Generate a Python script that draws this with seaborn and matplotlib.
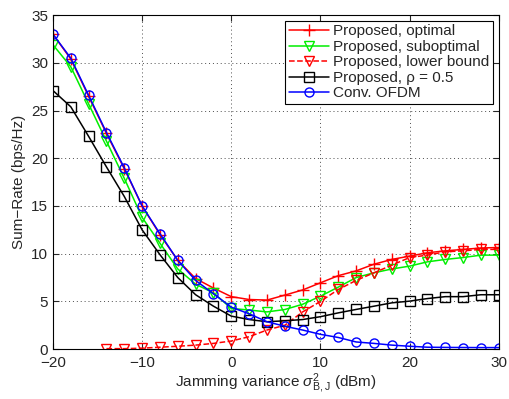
import numpy as np
import pandas as pd
import matplotlib
matplotlib.use('Agg')
import matplotlib.pyplot as plt
import seaborn as sns

# dados (passo de 2 dBm)
jam = list(range(-20, 31, 2))
jam_lb = list(range(-14, 31, 2))

otimo = [33.0, 30.4, 26.5, 22.6, 18.9, 15.0, 12.0, 9.3, 7.4, 6.4, 5.5, 5.2, 5.14,
         5.66, 6.2, 6.95, 7.7, 8.2, 8.9, 9.4, 9.75, 10.1, 10.3, 10.45, 10.6, 10.65]
subotimo = [31.9, 29.6, 25.7, 21.8, 17.9, 13.8, 11.1, 8.4, 6.8, 5.9, 4.26, 4.1, 3.9,
            4.15, 4.7, 5.55, 6.5, 7.5, 8.0, 8.4, 8.7, 9.15, 9.4, 9.6, 9.85, 9.85]
limite_inf = [0.05, 0.05, 0.1, 0.2, 0.3, 0.42, 0.6, 0.85, 1.3, 2.0, 2.5, 3.9, 5.0,
              6.25, 7.2, 8.0, 8.8, 9.6, 9.85, 10.2, 10.3, 10.45, 10.45]
rho05 = [27.1, 25.4, 22.3, 19.1, 16.0, 12.5, 9.9, 7.5, 5.7, 4.5, 3.46, 3.1, 2.87,
         2.97, 3.1, 3.4, 3.8, 4.16, 4.5, 4.85, 5.03, 5.3, 5.5, 5.5, 5.7, 5.7]
ofdm = [33.0, 30.5, 26.6, 22.7, 19.0, 15.0, 12.1, 9.3, 7.2, 5.8, 4.4, 3.7, 2.87,
        2.4, 2.0, 1.55, 1.22, 0.75, 0.6, 0.42, 0.3, 0.2, 0.18, 0.17, 0.16, 0.16]

sns.set_style('ticks')
plt.rcParams['font.family'] = ['Liberation Sans', 'DejaVu Sans']
plt.rcParams['mathtext.fontset'] = 'custom'
plt.rcParams['mathtext.rm'] = 'Liberation Sans'
plt.rcParams['mathtext.it'] = 'Liberation Sans:italic'

fig = plt.figure(figsize=(5.09, 3.99), dpi=100)
ax = fig.add_axes([0.104, 0.125, 0.876, 0.837])

series = [
    ('Proposed, optimal', jam, otimo, 'red', '+', '-'),
    ('Proposed, suboptimal', jam, subotimo, '#00ee00', 'v', '-'),
    ('Proposed, lower bound', jam_lb, limite_inf, 'red', 'v', '--'),
    ('Proposed, \u03c1 = 0.5', jam, rho05, 'black', 's', '-'),
    ('Conv. OFDM', jam, ofdm, 'blue', 'o', '-'),
]

for nome, xs, ys, cor, mk, ls in series:
    df = pd.DataFrame({'x': xs, 'y': ys})
    sns.lineplot(data=df, x='x', y='y', ax=ax, color=cor, marker=mk, linestyle=ls,
                 markersize=6.5 if mk != '+' else 8, markerfacecolor='none',
                 markeredgecolor=cor, markeredgewidth=1.0, linewidth=1.1, label=nome)

ax.set_xlim(-20, 30)
ax.set_ylim(0, 35)
ax.set_xticks(range(-20, 31, 10))
ax.set_xticklabels(['\u221220', '\u221210', '0', '10', '20', '30'])
ax.set_yticks(range(0, 36, 5))
ax.grid(True, linestyle=(0, (1, 3)), color='black', linewidth=0.7, alpha=0.7)
ax.tick_params(direction='in', top=True, right=True, labelsize=11, length=4)
ax.tick_params(axis='x', pad=5)
for s in ax.spines.values():
    s.set_visible(True)
    s.set_linewidth(0.8)
    s.set_color('black')

ax.set_xlabel(r'Jamming variance $\sigma^2_{\mathrm{B,J}}$ (dBm)', fontsize=11, labelpad=1)
ax.set_ylabel('Sum\u2212Rate (bps/Hz)', fontsize=11, labelpad=4)

leg = ax.legend(loc='upper right', fontsize=11, handlelength=2.6, fancybox=False,
                framealpha=1, edgecolor='black', borderpad=0.25, labelspacing=0.1,
                handletextpad=0.3, borderaxespad=0.35)
leg.get_frame().set_linewidth(0.8)

plt.savefig('out.png', dpi=100)
